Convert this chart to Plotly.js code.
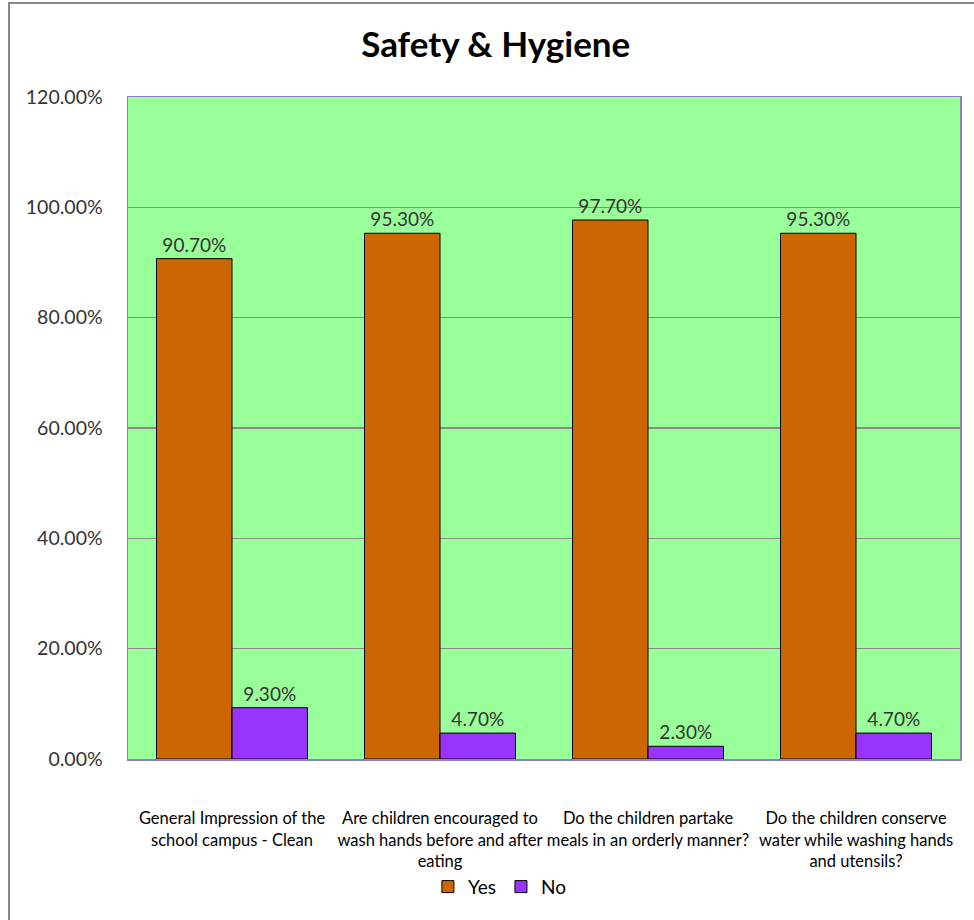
<!DOCTYPE html>
<html><head><meta charset="utf-8">
<script src="https://cdn.plot.ly/plotly-3.0.1.min.js"></script>
<style>
html,body{margin:0;padding:0;background:#fff;}
#chart{position:absolute;left:0;top:0;width:974px;height:920px;}
#frame{position:absolute;left:8px;top:2px;width:1000px;height:1000px;border:2px solid #888;box-sizing:border-box;pointer-events:none;}
</style></head>
<body>
<div id="chart"></div>
<div id="frame"></div>
<script>
const categories = [
  "General Impression of the<br>school campus - Clean",
  "Are children encouraged to<br>wash hands before and after<br>eating",
  "Do the children partake<br>meals in an orderly manner?",
  "Do the children conserve<br>water while washing hands<br>and utensils?"
];
const yesValues = [0.907, 0.953, 0.977, 0.953];
const noValues = [0.093, 0.047, 0.023, 0.047];
const yTickVals = [0, 0.2, 0.4, 0.6, 0.8, 1.0, 1.2];

const FONT = "Lato, 'Open Sans', sans-serif";
const labelFont = {family: FONT, size: 19, color: "#333"};

const traces = [
  {type: "bar", name: "Yes", x: categories, y: yesValues,
   marker: {color: "#CC6600", line: {color: "#000", width: 1}},
   text: yesValues.map(v => (v*100).toFixed(2) + "%"),
   textposition: "outside", textfont: labelFont, cliponaxis: false},
  {type: "bar", name: "No", x: categories, y: noValues,
   marker: {color: "#9933FF", line: {color: "#000", width: 1}},
   text: noValues.map(v => (v*100).toFixed(2) + "%"),
   textposition: "outside", textfont: labelFont, cliponaxis: false}
];

const layout = {
  width: 974, height: 920,
  margin: {l: 128, r: 14, t: 97, b: 161},
  paper_bgcolor: "#fff",
  plot_bgcolor: "#99FF99",
  barmode: "group",
  bargap: 0.274, bargroupgap: 0,
  title: {text: "<b>Safety & Hygiene</b>", x: 0.442, xref: "paper", xanchor: "center",
          y: 0.951, yanchor: "middle",
          font: {family: FONT, size: 35, color: "#000"}},
  xaxis: {type: "category", showline: true, mirror: true, linecolor: "#8E80C0", linewidth: 1.5,
          ticks: "", tickfont: {family: FONT, size: 16.5, color: "#000"},
          ticklabelstandoff: 44, automargin: false},
  yaxis: {range: [0, 1.2], tickvals: yTickVals, tickformat: ".2%", showgrid: true,
          gridcolor: "#8a8a8a", gridwidth: 1.5, showline: true, mirror: true,
          linecolor: "#8E80C0", linewidth: 1.5, ticks: "", zeroline: false,
          tickfont: {family: FONT, size: 19.5, color: "#333"},
          ticklabelstandoff: 20, automargin: false},
  showlegend: true,
  legend: {orientation: "h", x: 0.447, xanchor: "center", y: -0.193, yanchor: "middle",
           font: {family: FONT, size: 19, color: "#000"},
           itemwidth: 30, bgcolor: "rgba(0,0,0,0)"}
};

Plotly.newPlot("chart", traces, layout, {displayModeBar: false, staticPlot: true});
</script>
</body></html>
